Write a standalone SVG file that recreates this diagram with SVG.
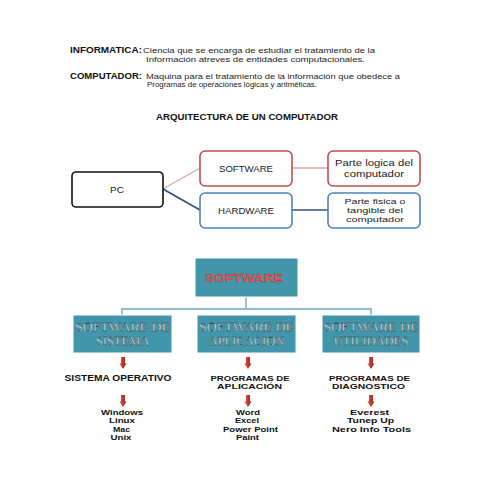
<svg xmlns="http://www.w3.org/2000/svg" width="495" height="495" viewBox="0 0 495 495">
<style>
.hb{font-family:"Liberation Sans",Arial,sans-serif;font-weight:bold;font-size:8.4px;fill:#111}
.hn{font-family:"Liberation Sans",Arial,sans-serif;font-size:7.6px;fill:#222}
.ti{font-family:"Liberation Sans",Arial,sans-serif;font-weight:bold;font-size:9px;fill:#111}
.cal{font-family:"Liberation Sans",Arial,sans-serif;font-size:9.4px;fill:#222;text-anchor:middle}
.cs{font-family:"Liberation Sans",Arial,sans-serif;font-size:8px;fill:#222;text-anchor:middle}
.red{fill:#fff;stroke:#c0504d;stroke-width:1.6}
.blue{fill:#fff;stroke:#4f81bd;stroke-width:1.6}
.teal{fill:#4196ab;stroke:#fff;stroke-width:1}
.emb{font-family:"Liberation Serif","Times New Roman",serif;font-size:12.5px;fill:#e6ecee;stroke:#2e3c42;stroke-width:0.3;text-anchor:middle}
.lb{font-family:"Liberation Sans",Arial,sans-serif;font-weight:bold;font-size:8.2px;fill:#111;text-anchor:middle}
.lt{font-family:"Liberation Sans",Arial,sans-serif;font-weight:bold;font-size:7.4px;fill:#111;text-anchor:middle}
</style>
<defs>
<linearGradient id="ag" x1="0" y1="0" x2="1" y2="0">
<stop offset="0" stop-color="#e05a50"/><stop offset="0.5" stop-color="#c0392b"/><stop offset="1" stop-color="#8f2a20"/>
</linearGradient>
<path id="arr" d="M-2,0 H2 V6.5 H3.6 L0,12 L-3.6,6.5 H-2 Z" fill="url(#ag)"/>
</defs>
<rect width="495" height="495" fill="#fff"/>

<g id="header">
<text class="hb" x="70" y="53" textLength="72" lengthAdjust="spacingAndGlyphs">INFORMATICA:</text>
<text class="hn" x="143" y="53" textLength="232" lengthAdjust="spacingAndGlyphs">Ciencia que se encarga de estudiar el tratamiento de la</text>
<text class="hn" x="146" y="61.5" textLength="219" lengthAdjust="spacingAndGlyphs">Información atreves de entidades computacionales.</text>
<text class="hb" x="70" y="78.5" textLength="72" lengthAdjust="spacingAndGlyphs">COMPUTADOR:</text>
<text class="hn" x="146" y="78.5" textLength="254" lengthAdjust="spacingAndGlyphs">Maquina para el tratamiento de la información que obedece a</text>
<text class="hn" x="147" y="87" textLength="170" lengthAdjust="spacingAndGlyphs">Programas de operaciones lógicas y aritméticas.</text>
<text class="ti" x="156" y="120" textLength="182" lengthAdjust="spacingAndGlyphs">ARQUITECTURA DE UN COMPUTADOR</text>
</g>

<g id="connectors">
<line x1="163" y1="189" x2="200" y2="168" stroke="#e2a8a6" stroke-width="1.3"/>
<line x1="163" y1="189" x2="200" y2="210" stroke="#2f5385" stroke-width="1.8"/>
<line x1="292" y1="168" x2="328" y2="168" stroke="#e2a8a6" stroke-width="1.3"/>
<line x1="292" y1="210" x2="328" y2="210" stroke="#2f5385" stroke-width="1.6"/>
<path d="M246,297 V309 M122,315 V309 H371 V315" fill="none" stroke="#8fb9cc" stroke-width="1.8"/>
</g>

<g id="pc">
<rect x="72" y="172" width="91" height="35" rx="4" fill="#fff" stroke="#111" stroke-width="1.6"/>
<text class="cal" x="117" y="192.5" textLength="14" lengthAdjust="spacingAndGlyphs">PC</text>
</g>
<g id="software">
<rect class="red" x="200" y="151" width="92" height="35" rx="5"/>
<text class="cal" x="246" y="171.5" textLength="54" lengthAdjust="spacingAndGlyphs">SOFTWARE</text>
</g>
<g id="hardware">
<rect class="blue" x="200" y="193" width="92" height="35" rx="5"/>
<text class="cal" x="246" y="213.5" textLength="56" lengthAdjust="spacingAndGlyphs">HARDWARE</text>
</g>
<g id="logica">
<rect class="red" x="328" y="151" width="92" height="35" rx="5"/>
<text class="cal" x="374" y="166" textLength="78" lengthAdjust="spacingAndGlyphs">Parte logica del</text>
<text class="cal" x="374" y="177" textLength="60" lengthAdjust="spacingAndGlyphs">computador</text>
</g>
<g id="fisica">
<rect class="blue" x="328" y="193" width="92" height="35" rx="5"/>
<text class="cs" x="375" y="203.6" textLength="61" lengthAdjust="spacingAndGlyphs">Parte fisica o</text>
<text class="cs" x="375" y="212.6" textLength="56" lengthAdjust="spacingAndGlyphs">tangible del</text>
<text class="cs" x="375" y="221.6" textLength="58" lengthAdjust="spacingAndGlyphs">computador</text>
</g>

<g id="sw-root">
<rect class="teal" x="195" y="258" width="103" height="39"/>
<text x="244" y="282" textLength="78" lengthAdjust="spacingAndGlyphs" font-family="Liberation Sans,Arial,sans-serif" font-weight="bold" font-size="10.5" fill="#e8605c" stroke="#9a2e2e" stroke-width="0.3" text-anchor="middle">SOFTWARE</text>
</g>
<g id="sw-sistema">
<rect class="teal" x="73" y="315" width="99" height="38"/>
<text class="emb" x="122.5" y="331" textLength="95" lengthAdjust="spacingAndGlyphs">SOFTWARE DE</text>
<text class="emb" x="122.5" y="345">SISTEMA</text>
</g>
<g id="sw-aplicacion">
<rect class="teal" x="197" y="315" width="99" height="38"/>
<text class="emb" x="246.5" y="331" textLength="95" lengthAdjust="spacingAndGlyphs">SOFTWARE DE</text>
<text class="emb" x="246.5" y="345">APLICACION</text>
</g>
<g id="sw-utilidades">
<rect class="teal" x="322" y="315" width="98" height="38"/>
<text class="emb" x="371" y="331" textLength="95" lengthAdjust="spacingAndGlyphs">SOFTWARE DE</text>
<text class="emb" x="371" y="345">UTILIDADES</text>
</g>

<g id="arrows">
<use href="#arr" x="123" y="357"/>
<use href="#arr" x="248" y="357"/>
<use href="#arr" x="371" y="357"/>
<use href="#arr" x="123" y="395"/>
<use href="#arr" x="248" y="395"/>
<use href="#arr" x="371" y="395"/>
</g>

<g id="col1">
<text class="lb" x="118" y="381" textLength="107" lengthAdjust="spacingAndGlyphs">SISTEMA OPERATIVO</text>
<text class="lt" x="122" y="415" textLength="42" lengthAdjust="spacingAndGlyphs">Windows</text>
<text class="lt" x="122" y="423.3" textLength="26" lengthAdjust="spacingAndGlyphs">Linux</text>
<text class="lt" x="121.5" y="431.6" textLength="17" lengthAdjust="spacingAndGlyphs">Mac</text>
<text class="lt" x="121" y="440" textLength="21" lengthAdjust="spacingAndGlyphs">Unix</text>
</g>
<g id="col2">
<text class="lt" x="250" y="380.5" textLength="79" lengthAdjust="spacingAndGlyphs">PROGRAMAS DE</text>
<text class="lt" x="249.5" y="389" textLength="65" lengthAdjust="spacingAndGlyphs">APLICACIÓN</text>
<text class="lt" x="248" y="415" textLength="24" lengthAdjust="spacingAndGlyphs">Word</text>
<text class="lt" x="247" y="423.3" textLength="24" lengthAdjust="spacingAndGlyphs">Excel</text>
<text class="lt" x="250.5" y="431.6" textLength="55" lengthAdjust="spacingAndGlyphs">Power Point</text>
<text class="lt" x="247.5" y="440" textLength="23" lengthAdjust="spacingAndGlyphs">Paint</text>
</g>
<g id="col3">
<text class="lt" x="369.5" y="380.5" textLength="81" lengthAdjust="spacingAndGlyphs">PROGRAMAS DE</text>
<text class="lt" x="368.5" y="389" textLength="73" lengthAdjust="spacingAndGlyphs">DIAGNOSTICO</text>
<text class="lt" x="369.5" y="415" textLength="39" lengthAdjust="spacingAndGlyphs">Everest</text>
<text class="lt" x="370.5" y="423.3" textLength="47" lengthAdjust="spacingAndGlyphs">Tunep Up</text>
<text class="lt" x="371.5" y="431.6" textLength="79" lengthAdjust="spacingAndGlyphs">Nero Info Tools</text>
</g>
</svg>
